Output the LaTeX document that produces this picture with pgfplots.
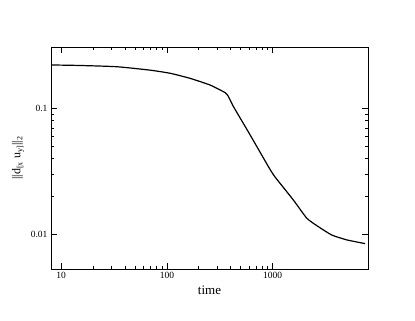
\documentclass[border=0pt]{standalone}
\usepackage{fontspec}
\setmainfont{Liberation Serif}
\usepackage{pgfplots}
\pgfplotsset{compat=1.18}

\begin{document}
\begin{tikzpicture}
\path[use as bounding box] (-51pt,-52pt) rectangle (364pt,269pt);
\begin{loglogaxis}[
  scale only axis,
  width=317pt, height=222pt,
  xmin=8, xmax=8000,
  ymin=0.0053, ymax=0.307,
  xtick={10,100,1000}, xticklabels={10,100,1000},
  ytick={0.01,0.1}, yticklabels={0.01,0.1},
  tick align=inside,
  major tick length=6pt, minor tick length=3.5pt,
  tick style={black, line width=0.6pt},
  axis line style={line width=0.9pt},
  ticklabel style={font=\fontsize{9.5}{11}\selectfont},
  /pgf/number format/assume math mode=true,
  xlabel={time},
  xlabel style={font=\fontsize{13}{15}\selectfont},
  ylabel={\textbar\textbar d\textsubscript{[x} u\textsubscript{y]}\textbar\textbar\textsubscript{2}},
  ylabel style={font=\fontsize{12}{14}\selectfont},
]
\addplot[black, line width=1.2pt, smooth, tension=0.3] coordinates {
  (8.1,0.221) (15,0.219) (33.7,0.214) (69.5,0.201) (107,0.190)
  (166,0.173) (257,0.153) (357,0.133) (383,0.1236) (427,0.103)
  (614,0.0614) (914,0.0344) (1052,0.0286) (1574,0.0187)
  (2110,0.0134) (2717,0.01148) (3637,0.00986) (5050,0.00902) (7520,0.00843)
};
\end{loglogaxis}
\end{tikzpicture}
\end{document}
